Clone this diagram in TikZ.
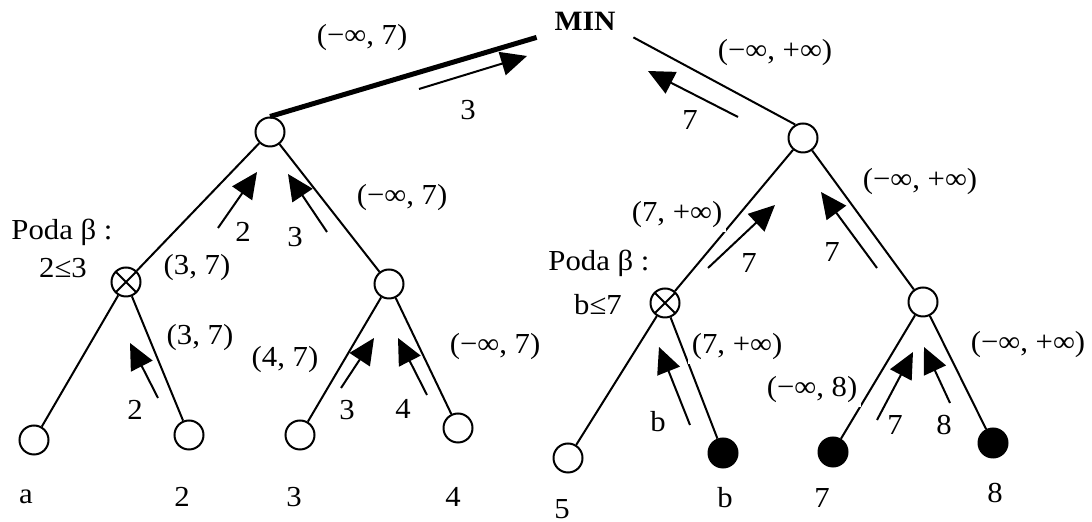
\documentclass[tikz,border=0pt]{standalone}
\usepackage{fontspec}
\setmainfont{Liberation Serif}[FakeStretch=1.06]
\usetikzlibrary{arrows.meta}

\begin{document}
\begin{tikzpicture}[
    x=0.5pt, y=-0.5pt,
    font=\fontsize{14.5}{17}\selectfont,
    opennode/.style={circle, draw, line width=1pt, fill=white, minimum size=14.5pt, inner sep=0pt},
    fullnode/.style={opennode, fill=black},
    pruned/.style={opennode, path picture={\draw[line width=1pt] (path picture bounding box.north west) -- (path picture bounding box.south east) (path picture bounding box.north east) -- (path picture bounding box.south west);}},
    branch/.style={line width=1pt},
    mainbranch/.style={line width=2.5pt},
    interval/.style={fill=white, inner sep=2pt},
    backup/.style={-{Triangle[length=13pt, width=12pt]}, line width=1pt}
]
\useasboundingbox (0,0) rectangle (1092,522);

% tree
\node[font=\fontsize{14}{16}\selectfont\bfseries, minimum width=48pt, minimum height=16pt, inner sep=0pt] (MIN) at (585,21) {MIN};
\node[opennode] (maxL) at (270,132) {};
\node[opennode] (maxR) at (803,138) {};
\node[pruned] (minLL) at (126,282) {};
\node[opennode] (minLR) at (389,284) {};
\node[pruned] (minRL) at (665,303) {};
\node[opennode] (minRR) at (923,302) {};

\node[opennode] (la) at (34,440) {};
\node[opennode] (l2) at (189,435) {};
\node[opennode] (l3) at (300,435) {};
\node[opennode] (l4) at (458,428) {};
\node[opennode] (l5) at (568,458) {};
\node[fullnode] (lb) at (723,453) {};
\node[fullnode] (l7) at (833,452) {};
\node[fullnode] (l8) at (993,443) {};

\draw[mainbranch] (MIN.south west) -- (maxL.north);
\draw[branch] (MIN.south east) -- (maxR.120);
\draw[branch] (maxL) -- (minLL);
\draw[branch] (maxL) -- (minLR);
\draw[branch] (maxR) -- (minRL);
\draw[branch] (maxR) -- (minRR);
\draw[branch] (minLL) -- (la);
\draw[branch] (minLL) -- (l2);
\draw[branch] (minLR) -- (l3);
\draw[branch] (minLR) -- (l4);
\draw[branch] (minRL) -- (l5);
\draw[branch] (minRL) -- (lb);
\draw[branch] (minRR) -- (l7);
\draw[branch] (minRR) -- (l8);

% leaf values
\node (va) at (26,497) {a};
\node (v2) at (182,497) {2};
\node (v3) at (294,497) {3};
\node (v4) at (453,497) {4};
\node (v5) at (562,509) {5};
\node (vb) at (725,498) {b};
\node (v7) at (822,498) {7};
\node (v8) at (995,493) {8};

% alpha-beta windows
\node[interval] (w1) at (362,38) {(−∞, 7)};
\node[interval] (w2) at (775,53) {(−∞, +∞)};
\node[interval] (w3) at (197,268) {(3, 7)};
\node[interval] (w4) at (402,198) {(−∞, 7)};
\node[interval] (w5) at (200,338) {(3, 7)};
\node[interval] (w6) at (285,360) {(4, 7)};
\node[interval] (w7) at (495,347) {(−∞, 7)};
\node[interval] (w8) at (677,215) {(7, +∞)};
\node[interval] (w9) at (920,182) {(−∞, +∞)};
\node[interval] (w10) at (737,347) {(7, +∞)};
\node[interval] (w11) at (812,390) {(−∞, 8)};
\node[interval] (w12) at (1028,345) {(−∞, +∞)};

% prunings
\node (cutL) at (62,232) {Poda β :};
\node (condL) at (63,268) {2≤3};
\node (cutR) at (599,263) {Poda β :};
\node (condR) at (598,305) {b≤7};

% backed-up values
\coordinate (s1) at (419,89);  \coordinate (t1) at (527,56);
\coordinate (s2) at (738,117); \coordinate (t2) at (648,71);
\coordinate (s3) at (218,228); \coordinate (t3) at (257,172);
\coordinate (s4) at (327,232); \coordinate (t4) at (288,174);
\coordinate (s5) at (158,398); \coordinate (t5) at (130,343);
\coordinate (s6) at (341,388); \coordinate (t6) at (374,338);
\coordinate (s7) at (427,395); \coordinate (t7) at (398,338);
\coordinate (s8) at (708,268); \coordinate (t8) at (775,205);
\coordinate (s9) at (877,268); \coordinate (t9) at (821,192);
\coordinate (s10) at (690,425); \coordinate (t10) at (659,347);
\coordinate (s11) at (877,420); \coordinate (t11) at (913,352);
\coordinate (s12) at (950,403); \coordinate (t12) at (924,347);

\draw[backup] (s1) -- (t1);
\draw[backup] (s2) -- (t2);
\draw[backup] (s3) -- (t3);
\draw[backup] (s4) -- (t4);
\draw[backup] (s5) -- (t5);
\draw[backup] (s6) -- (t6);
\draw[backup] (s7) -- (t7);
\draw[backup] (s8) -- (t8);
\draw[backup] (s9) -- (t9);
\draw[backup] (s10) -- (t10);
\draw[backup] (s11) -- (t11);
\draw[backup] (s12) -- (t12);

\node (b1) at (468,110) {3};
\node (b2) at (690,120) {7};
\node (b3) at (243,232) {2};
\node (b4) at (295,237) {3};
\node (b5) at (135,410) {2};
\node (b6) at (347,410) {3};
\node (b7) at (403,409) {4};
\node (b8) at (749,263) {7};
\node (b9) at (832,252) {7};
\node (b10) at (658,422) {b};
\node (b11) at (895,425) {7};
\node (b12) at (944,425) {8};

\end{tikzpicture}
\end{document}
